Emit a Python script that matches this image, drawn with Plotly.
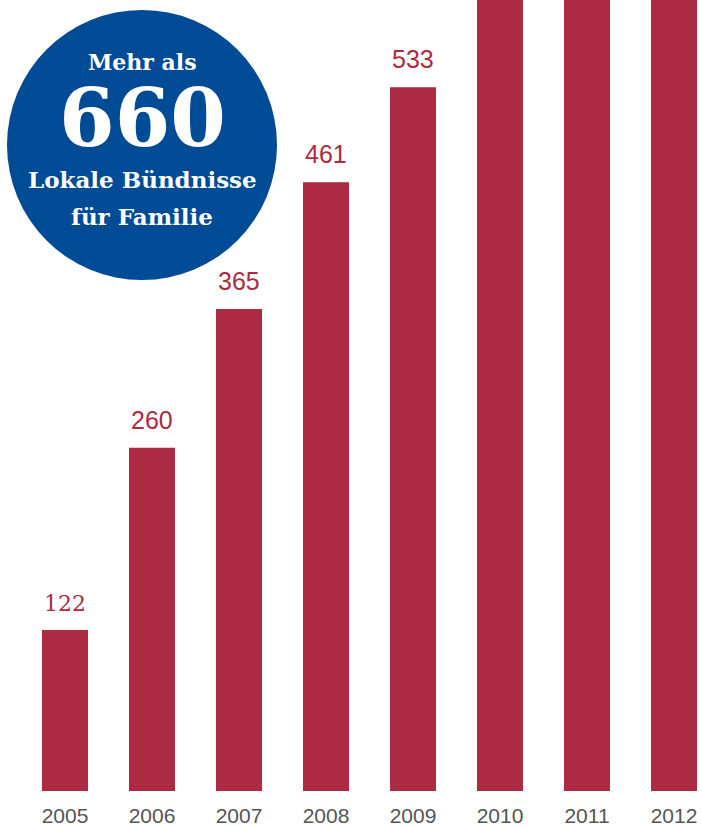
import plotly.graph_objects as go

years = ["2005", "2006", "2007", "2008", "2009", "2010", "2011", "2012"]
values = [122, 260, 365, 461, 533, 620, 645, 665]
labels = ["122", "260", "365", "461", "533", "", "", ""]
label_fonts = ["DejaVu Serif", "Liberation Sans", "Liberation Sans", "Liberation Sans",
               "Liberation Sans", "Liberation Sans", "Liberation Sans", "Liberation Sans"]
label_sizes = [22, 25, 25, 25, 25, 25, 25, 25]

bar_color = "#ad2a43"
circle_color = "#004b96"

fig = go.Figure()
fig.add_trace(go.Bar(x=years, y=values, marker_color=bar_color, marker_line_width=0,
                     text=labels, textposition="none", hoverinfo="skip"))

for i, (v, lab, fnt, sz) in enumerate(zip(values, labels, label_fonts, label_sizes)):
    if lab:
        fig.add_annotation(x=i, y=v, xref="x", yref="y", text=lab, showarrow=False,
                           yanchor="bottom", yshift=12,
                           font=dict(family=fnt, size=sz, color=bar_color))

# badge circle
fig.add_shape(type="circle", xref="paper", yref="paper",
              x0=7/701, x1=277/701, y0=1-280/791, y1=1-10/791,
              fillcolor=circle_color, line_width=0, layer="above")

circle_text = [("Mehr als", 62, 22, None), ("660", 118, 80, 68),
               ("Lokale Bündnisse", 179, 23, None), ("für Familie", 216, 23, None)]
for txt, py, sz, h in circle_text:
    fig.add_annotation(xref="paper", yref="paper", x=142/701, y=1-py/791,
                       text=f"<b>{txt}</b>", showarrow=False, xanchor="center",
                       yanchor="middle", height=h, valign="middle",
                       font=dict(family="DejaVu Serif", size=sz, color="white"))

fig.update_layout(
    width=701, height=827,
    margin=dict(l=0, r=0, t=0, b=36),
    paper_bgcolor="white", plot_bgcolor="white",
    bargap=0.471,
    showlegend=False,
    xaxis=dict(type="category", range=[-65/87, (701-65)/87], showgrid=False,
               showline=False, ticks="", zeroline=False, ticklabelstandoff=10,
               tickfont=dict(family="Liberation Sans Narrow, Liberation Sans", size=21,
                             color="#555555")),
    yaxis=dict(range=[0, 599], visible=False),
)

fig.write_html("out.html")
